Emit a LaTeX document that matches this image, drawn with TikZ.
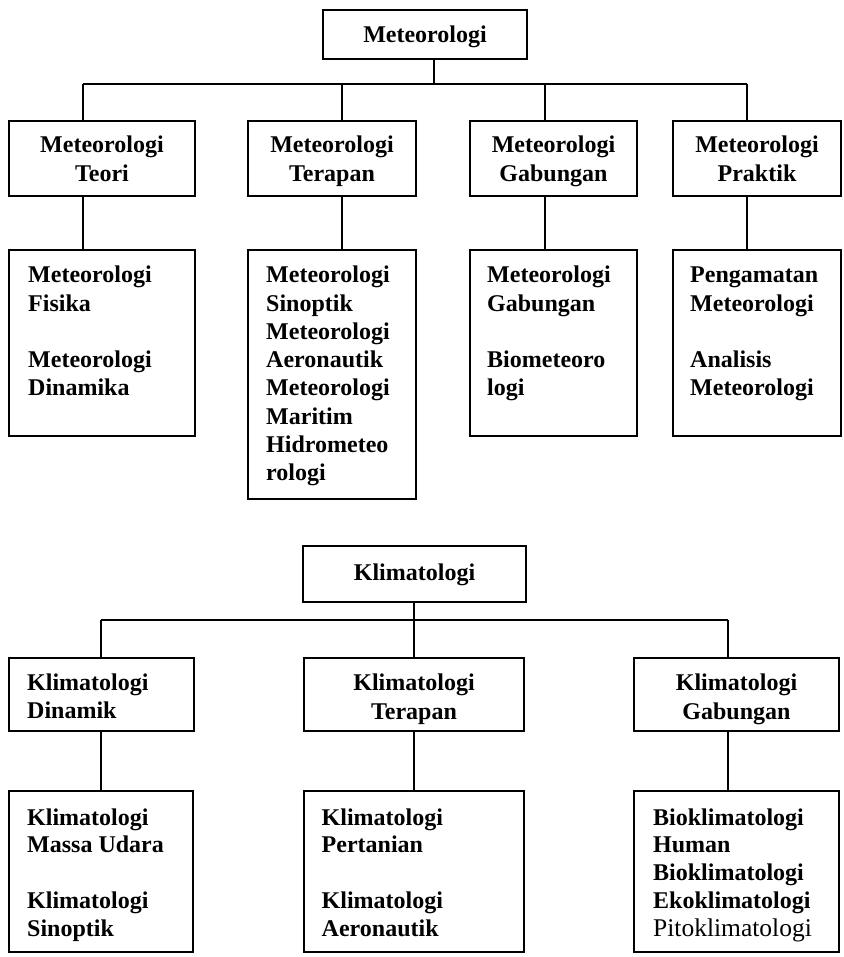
\documentclass[tikz,border=0pt]{standalone}
\usepackage{fontspec}
\setmainfont{Liberation Serif}
\begin{document}
\begin{tikzpicture}[x=1pt,y=-1pt,
  box/.style={draw=black, line width=2.9pt, inner sep=0pt},
  conn/.style={draw=black, line width=2.7pt},
  lt/.style={anchor=base west, inner sep=0pt, font=\bfseries\fontsize{24}{28.2}\selectfont},
  ltb/.style={anchor=base west, inner sep=0pt, font=\bfseries\fontsize{24}{27.75}\selectfont},
  ct/.style={anchor=base, inner sep=0pt, font=\bfseries\fontsize{24}{29}\selectfont}]
\useasboundingbox (0,0) rectangle (843,957);
\fill[white] (0,0) rectangle (843,957);

% ---------- Meteorologi ----------
\node[box, minimum width=204pt, minimum height=49pt] (met) at (425,34.5) {};
\node[ct] (mett) at (425,43) {Meteorologi};

\node[box, minimum width=186pt, minimum height=75pt] (t1) at (102,158.5) {};
\node[box, minimum width=168pt, minimum height=75pt] (t2) at (332,158.5) {};
\node[box, minimum width=167pt, minimum height=75pt] (t3) at (553.5,158.5) {};
\node[box, minimum width=168pt, minimum height=75pt] (t4) at (757,158.5) {};
\node[ct] (t1t) at (102,153) {\begin{tabular}[t]{@{}c@{}}Meteorologi\\Teori\end{tabular}};
\node[ct] (t2t) at (332,153) {\begin{tabular}[t]{@{}c@{}}Meteorologi\\Terapan\end{tabular}};
\node[ct] (t3t) at (553.5,153) {\begin{tabular}[t]{@{}c@{}}Meteorologi\\Gabungan\end{tabular}};
\node[ct] (t4t) at (757,153) {\begin{tabular}[t]{@{}c@{}}Meteorologi\\Praktik\end{tabular}};

\node[box, minimum width=186pt, minimum height=186pt] (l1) at (102,343) {};
\node[box, minimum width=168pt, minimum height=249pt] (l2) at (332,374.5) {};
\node[box, minimum width=167pt, minimum height=186pt] (l3) at (553.5,343) {};
\node[box, minimum width=168pt, minimum height=186pt] (l4) at (757,343) {};
\node[lt] (l1t) at (28,283) {\begin{tabular}[t]{@{}l@{}}Meteorologi\\Fisika\\ \\Meteorologi\\Dinamika\end{tabular}};
\node[lt] (l2t) at (266,283) {\begin{tabular}[t]{@{}l@{}}Meteorologi\\Sinoptik\\Meteorologi\\Aeronautik\\Meteorologi\\Maritim\\Hidrometeo\\rologi\end{tabular}};
\node[lt] (l3t) at (487,283) {\begin{tabular}[t]{@{}l@{}}Meteorologi\\Gabungan\\ \\Biometeoro\\logi\end{tabular}};
\node[lt] (l4t) at (690,283) {\begin{tabular}[t]{@{}l@{}}Pengamatan\\Meteorologi\\ \\Analisis\\Meteorologi\end{tabular}};

\coordinate (mj) at (434,84);
\coordinate (h1) at (83,84);
\coordinate (h2) at (342,84);
\coordinate (h3) at (545,84);
\coordinate (h4) at (747,84);
\draw[conn] (mj |- met.south) -- (mj);
\draw[conn] (h1) -- (h4);
\draw[conn] (h1) -- (h1 |- t1.north);
\draw[conn] (h2) -- (h2 |- t2.north);
\draw[conn] (h3) -- (h3 |- t3.north);
\draw[conn] (h4) -- (h4 |- t4.north);
\draw[conn] (h1 |- t1.south) -- (h1 |- l1.north);
\draw[conn] (h2 |- t2.south) -- (h2 |- l2.north);
\draw[conn] (h3 |- t3.south) -- (h3 |- l3.north);
\draw[conn] (h4 |- t4.south) -- (h4 |- l4.north);

% ---------- Klimatologi ----------
\node[box, minimum width=223pt, minimum height=56pt] (kli) at (414.5,574) {};
\node[ct] (klit) at (414.5,580) {Klimatologi};

\node[box, minimum width=185pt, minimum height=73pt] (b1) at (101.5,694.5) {};
\node[box, minimum width=220pt, minimum height=73pt] (b2) at (414,694.5) {};
\node[box, minimum width=205pt, minimum height=73pt] (b3) at (736.5,694.5) {};
\node[lt] (b1t) at (27,690) {\begin{tabular}[t]{@{}l@{}}Klimatologi\\Dinamik\end{tabular}};
\node[ct] (b2t) at (414,690) {\begin{tabular}[t]{@{}c@{}}Klimatologi\\Terapan\end{tabular}};
\node[ct] (b3t) at (736.5,690) {\begin{tabular}[t]{@{}c@{}}Klimatologi\\Gabungan\end{tabular}};

\node[box, minimum width=184pt, minimum height=161pt] (bl1) at (101,871.5) {};
\node[box, minimum width=220pt, minimum height=161pt] (bl2) at (414,871.5) {};
\node[box, minimum width=205pt, minimum height=161pt] (bl3) at (736.5,871.5) {};
\node[ltb] (bl1t) at (27,825) {\begin{tabular}[t]{@{}l@{}}Klimatologi\\Massa Udara\\ \\Klimatologi\\Sinoptik\end{tabular}};
\node[ltb] (bl2t) at (321.5,825) {\begin{tabular}[t]{@{}l@{}}Klimatologi\\Pertanian\\ \\Klimatologi\\Aeronautik\end{tabular}};
\node[ltb] (bl3t) at (653,825) {\begin{tabular}[t]{@{}l@{}}Bioklimatologi\\Human\\Bioklimatologi\\Ekoklimatologi\\{\mdseries\fontsize{25.5}{27.75}\selectfont Pitoklimatologi}\end{tabular}};

\coordinate (kj) at (414,620);
\coordinate (k1) at (101,620);
\coordinate (k3) at (728,620);
\draw[conn] (kj |- kli.south) -- (kj |- b2.north);
\draw[conn] (k1) -- (k3);
\draw[conn] (k1) -- (k1 |- b1.north);
\draw[conn] (k3) -- (k3 |- b3.north);
\draw[conn] (k1 |- b1.south) -- (k1 |- bl1.north);
\draw[conn] (kj |- b2.south) -- (kj |- bl2.north);
\draw[conn] (k3 |- b3.south) -- (k3 |- bl3.north);
\end{tikzpicture}
\end{document}
